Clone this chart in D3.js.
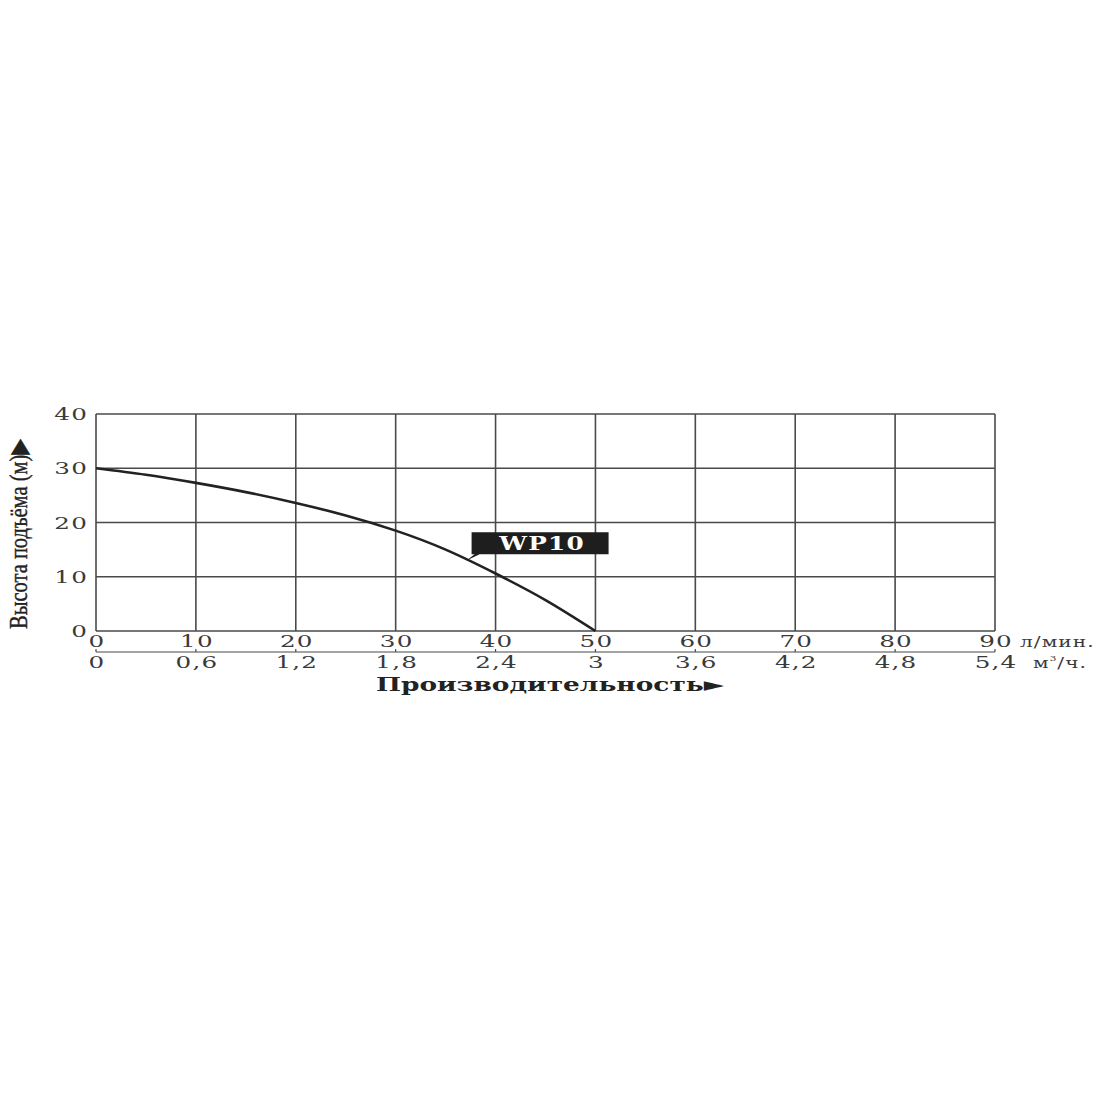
<!DOCTYPE html>
<html><head><meta charset="utf-8">
<script src="https://cdn.jsdelivr.net/npm/d3@7"></script>
<style>body{margin:0;background:#fff}svg{display:block}</style>
</head><body>
<svg id="c" width="1100" height="1100"></svg>
<script>
const flowLmin = [0, 5, 10, 15, 20, 25, 30, 35, 40, 45, 50];
const headM = [30, 28.8, 27.3, 25.6, 23.6, 21.3, 18.5, 15.0, 10.6, 5.7, 0];
const xTicksLmin = [0,10,20,30,40,50,60,70,80,90];
const xTicksM3h = ["0","0,6","1,2","1,8","2,4","3","3,6","4,2","4,8","5,4"];
const yTicks = [0,10,20,30,40];
const seriesName = "WP10";

const svg = d3.select("#c");
const x = d3.scaleLinear().domain([0,90]).range([96,995]);
const y = d3.scaleLinear().domain([0,40]).range([631,414]);
const gridColor = "#4a4a4a";
const serif = "'DejaVu Serif','Liberation Serif',serif";
const serif2 = "'Liberation Serif','DejaVu Serif',serif";
const tickColor = "#3a3a3a";
const SX = 1.45;

// grid
svg.append("g").selectAll("line").data(xTicksLmin).join("line")
  .attr("x1", d=>x(d)).attr("x2", d=>x(d)).attr("y1", y(0)).attr("y2", y(40))
  .attr("stroke", gridColor).attr("stroke-width", 1.6);
svg.append("g").selectAll("line").data(yTicks).join("line")
  .attr("x1", x(0)).attr("x2", x(90)).attr("y1", d=>y(d)).attr("y2", d=>y(d))
  .attr("stroke", gridColor).attr("stroke-width", 1.6);

function stretched(g, data, px, py, anchor, txt, size) {
  return g.selectAll("text").data(data).join("text")
    .attr("transform", (d,i)=>`translate(${px(d,i)},${py(d,i)}) scale(${SX},1)`)
    .attr("text-anchor", anchor)
    .attr("font-family", serif).attr("font-size", size).attr("fill", tickColor)
    .attr("letter-spacing", 0.8).text(txt);
}

// y tick labels
stretched(svg.append("g"), yTicks, ()=>88, d=>y(d)+6, "end", d=>d, 17);

// x tick labels row 1
stretched(svg.append("g"), xTicksLmin, d=>x(d)+1, ()=>647, "middle", d=>d, 17);
svg.append("text").attr("transform", "translate(1020,647) scale(1.3,1)")
  .attr("font-family", serif).attr("font-size", 15.5).attr("fill",tickColor)
  .attr("letter-spacing", 0.8).text("л/мин.");

// secondary axis
const x2 = d3.scalePoint().domain(xTicksM3h).range([96,995]);
svg.append("line").attr("x1", x(0)).attr("x2", x(90)).attr("y1", 652).attr("y2", 652)
  .attr("stroke", gridColor).attr("stroke-width", 1.2);
svg.append("g").selectAll("line").data(xTicksM3h).join("line")
  .attr("x1", d=>x2(d)).attr("x2", d=>x2(d)).attr("y1", 649).attr("y2", 652)
  .attr("stroke", gridColor).attr("stroke-width", 1.2);
stretched(svg.append("g"), xTicksM3h, d=>x2(d)+1, ()=>668, "middle", d=>d, 17);
const u = svg.append("text").attr("transform", "translate(1033,668) scale(1.3,1)")
  .attr("font-family", serif).attr("font-size", 15.5).attr("fill",tickColor)
  .attr("letter-spacing", 0.8);
u.append("tspan").text("м");
u.append("tspan").attr("dy", -7).attr("font-size", 8).text("3");
u.append("tspan").attr("dy", 7).text("/ч.");

// x title
svg.append("text").attr("x", 376).attr("y", 691)
  .attr("font-family", serif).attr("font-size", 19).attr("font-weight","bold").attr("fill","#222")
  .attr("textLength", 348).attr("lengthAdjust","spacingAndGlyphs")
  .text("Производительность►");

// y title (rotated, condensed)
svg.append("text")
  .attr("transform", "translate(27,534) rotate(-90)")
  .attr("text-anchor","middle")
  .attr("font-family", serif2).attr("font-size", 25).attr("fill","#222")
  .attr("stroke","#222").attr("stroke-width",0.4)
  .attr("textLength", 190).attr("lengthAdjust","spacingAndGlyphs")
  .text("Высота подъёма (м)▶");

// curve
const line = d3.line().x(d=>x(d[0])).y(d=>y(d[1])).curve(d3.curveNatural);
svg.append("path").datum(flowLmin.map((f,i)=>[f, headM[i]]))
  .attr("d", line).attr("fill","none").attr("stroke","#222").attr("stroke-width", 2.6);

// label box with pointer
const bx = 37.6, by = 18.2, bw = 137, bh = 22;
const bX = x(bx), bY = y(by);
svg.append("path")
  .attr("d", `M${bX},${bY} h${bw} v${bh} H${bX+8} L${x(37.1)},${y(13.0)} L${bX+3},${bY+bh} H${bX} Z`)
  .attr("fill","#1e1e1e");
svg.append("text").attr("transform", `translate(${bX+bw/2+2},${bY+bh-4}) scale(1.3,1)`)
  .attr("text-anchor","middle")
  .attr("font-family", serif).attr("font-size", 19).attr("font-weight","bold").attr("fill","#fff")
  .attr("letter-spacing", 1).text(seriesName);
</script>
</body></html>
